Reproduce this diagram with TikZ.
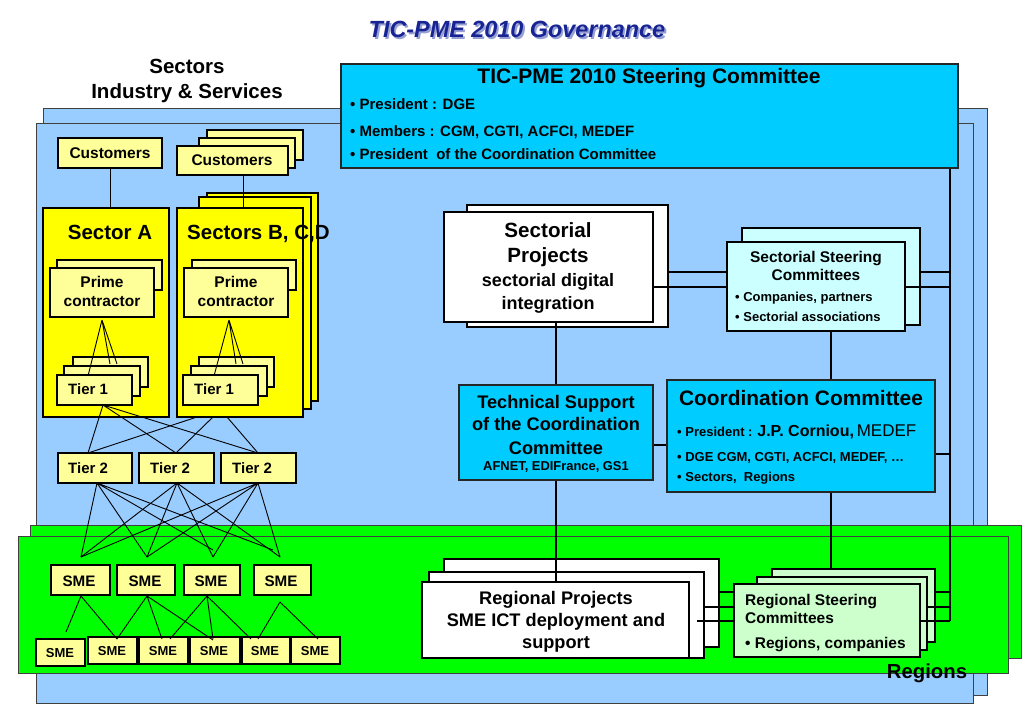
\documentclass[tikz,border=0pt]{standalone}
\usepackage{fontspec}
\setmainfont{Liberation Sans}
\usetikzlibrary{fit}
\definecolor{bgblue}{HTML}{99CCFF}
\definecolor{bggreen}{HTML}{00FF00}
\definecolor{cyanbox}{HTML}{00CCFF}
\definecolor{lcyan}{HTML}{CCFFFF}
\definecolor{ysec}{HTML}{FFFF00}
\definecolor{lyel}{HTML}{FFFF99}
\definecolor{lgreen}{HTML}{CCFFCC}
\definecolor{titleblue}{RGB}{24,36,148}
\definecolor{titleshadow}{RGB}{150,160,210}
\newcommand\fz[1]{\fontsize{#1}{#1}\selectfont\bfseries}
\newcommand\bx[3]{\node[#1, fit={#3}, inner sep=0pt] (#2) {};}
\begin{document}
\begin{tikzpicture}[x=1pt,y=-1pt,
  lay/.style={draw=black!75, line width=0.9pt},
  bluelay/.style={lay, fill=bgblue},
  greenlay/.style={lay, fill=bggreen},
  cbox/.style={draw=black!85, line width=1.2pt, fill=cyanbox},
  lcbox/.style={draw=black, line width=1.1pt, fill=lcyan},
  secbox/.style={draw=black, line width=1.1pt, fill=ysec},
  ybox/.style={draw=black, line width=1.1pt, fill=lyel},
  wbox/.style={draw=black, line width=1.8pt, fill=white},
  lgbox/.style={draw=black, line width=1.1pt, fill=lgreen},
  thinln/.style={draw=black, line width=0.9pt},
  conn/.style={draw=black, line width=2pt},
  txt/.style={inner sep=0pt, anchor=base},
  txtw/.style={inner sep=0pt, anchor=base west},
]
\useasboundingbox (0,0) rectangle (1023,708);

% ---- title
\node[txt, text=titleshadow, font={\fontsize{23.4}{28}\selectfont\bfseries\itshape}] (titleS) at (518.8,39.8) {TIC-PME 2010 Governance};
\node[txt, text=titleblue, font={\fontsize{23.4}{28}\selectfont\bfseries\itshape}] (title) at (517,38) {TIC-PME 2010 Governance};

% ---- background layers
\bx{bluelay}{blueback}{(43,108) (987,695)}
\bx{bluelay}{bluefront}{(36,123) (973,703)}
\bx{greenlay}{greenback}{(30,525) (1021,658)}
\bx{greenlay}{greenfront}{(18,536) (1008,673)}

% ---- headers
\node[txt, font={\fz{20.5}}] (hdr1) at (187,74) {Sectors};
\node[txt, font={\fz{20.5}}] (hdr2) at (187,99) {Industry \& Services};
\node[txt, font={\fz{20.3}}] (regions) at (927,678) {Regions};

% ---- steering committee
\bx{cbox}{steer}{(341,64) (958,168)}
\node[txt, font={\fz{21}}] (steerT) at (649,84) {TIC-PME 2010 Steering Committee};
\node[txtw, font={\fz{15}}] (steer1) at (350,110) {• President : DGE};
\node[txtw, font={\fz{15}}] (steer2) at (350,137) {• Members : CGM, CGTI, ACFCI, MEDEF};
\node[txtw, font={\fz{15}}] (steer3) at (350,160) {• President\ \ of the Coordination Committee};

% ---- customers
\bx{ybox}{custA}{(58,138) (162,168)}
\node[txt, font={\fz{15.5}}] (custAt) at (110,159) {Customers};
\bx{ybox}{custB3}{(207,130) (303,160)}
\bx{ybox}{custB2}{(199,138) (295,168)}
\bx{ybox}{custB}{(177,146) (288,175)}
\node[txt, font={\fz{15.5}}] (custBt) at (232,166) {Customers};

% ---- sectors
\bx{secbox}{secA}{(43,208) (169,417)}
\bx{secbox}{secB3}{(207,193) (318,401)}
\bx{secbox}{secB2}{(199,197) (311,409)}
\bx{secbox}{secB}{(177,208) (303,417)}
\coordinate (cBx) at (243,0);
\draw[thinln] (custA.south) -- (custA.south |- secA.north);
\draw[thinln] (custB.south -| cBx) -- (secB.north -| cBx);
\node[txt, font={\fz{20.5}}] (secAt) at (110,240) {Sector A};
\node[txtw, font={\fz{20.5}}] (secBt) at (187,240) {Sectors B, C,D};

% ---- prime contractors
\bx{ybox}{primeA2}{(57,260) (162,290)}
\bx{ybox}{primeA}{(50,268) (154,317)}
\node[txt, font={\fz{15.5}}] at (102,288) {Prime};
\node[txt, font={\fz{15.5}}] at (102,307) {contractor};
\bx{ybox}{primeB2}{(192,260) (296,290)}
\bx{ybox}{primeB}{(184,268) (288,317)}
\node[txt, font={\fz{15.5}}] at (236,288) {Prime};
\node[txt, font={\fz{15.5}}] at (236,307) {contractor};

% ---- tier 1
\bx{ybox}{t1A3}{(73,357) (148,387)}
\bx{ybox}{t1A2}{(64,366) (140,396)}
\bx{ybox}{t1A}{(57,375) (132,405)}
\node[txtw, font={\fz{15}}] at (68,395) {Tier 1};
\bx{ybox}{t1B3}{(199,357) (274,387)}
\bx{ybox}{t1B2}{(191,366) (267,396)}
\bx{ybox}{t1B}{(183,375) (258,405)}
\node[txtw, font={\fz{15}}] at (194,395) {Tier 1};

\coordinate (pA) at (102,320);
\coordinate (pB) at (229,320);
\draw[thinln] (pA) -- (88,376) (pA) -- (110,364) (pA) -- (117,364);
\draw[thinln] (pB) -- (214,376) (pB) -- (236,364) (pB) -- (243,364);

% ---- tier 2
\bx{ybox}{t2a}{(58,453) (132,483)}
\bx{ybox}{t2b}{(139,453) (214,483)}
\bx{ybox}{t2c}{(221,453) (296,483)}
\node[txtw, font={\fz{15}}] at (68,474) {Tier 2};
\node[txtw, font={\fz{15}}] at (150,474) {Tier 2};
\node[txtw, font={\fz{15}}] at (232,474) {Tier 2};

\coordinate (t1Aap) at (103,405);
\coordinate (sB1) at (197,417);
\coordinate (sB2) at (213,417);
\coordinate (sB3) at (227,417);
\coordinate (t2aT) at (88,453);
\coordinate (t2bT) at (176,453);
\coordinate (t2cT) at (258,453);
\draw[thinln] (t1Aap) -- (t2aT) (t1Aap) -- (t2bT) (t1Aap) -- (t2cT);
\draw[thinln] (sB1) -- (t2aT) (sB2) -- (t2bT) (sB3) -- (t2cT);

% ---- SMEs
\bx{ybox}{s1}{(51,565) (110,595)}
\bx{ybox}{s2}{(117,565) (175,595)}
\bx{ybox}{s3}{(184,565) (240,595)}
\bx{ybox}{s4}{(254,565) (311,595)}
\node[txt, font={\fz{15.2}}] at (79,586) {SME};
\node[txt, font={\fz{15.2}}] at (145,586) {SME};
\node[txt, font={\fz{15.2}}] at (211,586) {SME};
\node[txt, font={\fz{15.2}}] at (281,586) {SME};
\bx{ybox}{r1}{(36,639) (85,666)}
\bx{ybox}{r2}{(88,637) (137,664)}
\bx{ybox}{r3}{(139,637) (188,664)}
\bx{ybox}{r4}{(190,637) (240,664)}
\bx{ybox}{r5}{(242,637) (290,664)}
\bx{ybox}{r6}{(291,637) (340,664)}
\node[txt, font={\fz{13}}] at (60,657) {SME};
\node[txt, font={\fz{13}}] at (112,655) {SME};
\node[txt, font={\fz{13}}] at (163,655) {SME};
\node[txt, font={\fz{13}}] at (214,655) {SME};
\node[txt, font={\fz{13}}] at (265,655) {SME};
\node[txt, font={\fz{13}}] at (315,655) {SME};

\coordinate (t2aB) at (97,483);
\coordinate (t2bB) at (177,483);
\coordinate (t2cB) at (258,483);
\coordinate (e1) at (81,557);
\coordinate (e2) at (147,557);
\coordinate (e3) at (213,557);
\coordinate (e4) at (280,557);
\coordinate (e3b) at (213,550);
\coordinate (e4b) at (273,550);
\draw[thinln] (t2aB) -- (e1) (t2aB) -- (e2) (t2aB) -- (e3b) (t2aB) -- (e4b);
\draw[thinln] (t2bB) -- (e1) (t2bB) -- (e2) (t2bB) -- (e3) (t2bB) -- (e4);
\draw[thinln] (t2cB) -- (e1) (t2cB) -- (e2) (t2cB) -- (e3) (t2cB) -- (e4);

\coordinate (s1B) at (81,596);
\coordinate (s2B) at (147,596);
\coordinate (s3B) at (207,596);
\coordinate (s4B) at (280,602);
\draw[thinln] (s1B) -- (66,632) (s1B) -- (117,639);
\draw[thinln] (s2B) -- (117,639) (s2B) -- (162,639) (s2B) -- (213,640);
\draw[thinln] (s3B) -- (170,639) (s3B) -- (213,639) (s3B) -- (251,639);
\draw[thinln] (s4B) -- (258,639) (s4B) -- (318,639);

% ---- sectorial projects
\bx{wbox}{secproj2}{(467,205) (668,327)}
\bx{wbox}{secproj}{(444,212) (653,322)}
\node[txt, font={\fz{20.6}}] at (548,238) {Sectorial};
\node[txt, font={\fz{20.6}}] at (548,263) {Projects};
\node[txt, font={\fz{18}}] at (548,287) {sectorial digital};
\node[txt, font={\fz{18}}] at (548,310) {integration};

% ---- sectorial steering committees
\bx{lcbox}{sst2}{(742,228) (920,325)}
\bx{lcbox}{sst}{(727,242) (905,331)}
\node[txt, font={\fz{15.5}}] at (816,263) {Sectorial Steering};
\node[txt, font={\fz{15.5}}] at (816,281) {Committees};
\node[txtw, font={\fz{13}}] at (735,302) {• Companies, partners};
\node[txtw, font={\fz{13}}] at (735,322) {• Sectorial associations};

% ---- technical support
\bx{cbox}{tech}{(459,385) (653,480)}
\node[txt, font={\fz{18.2}}] at (556,409) {Technical Support};
\node[txt, font={\fz{18.2}}] at (556,431) {of the Coordination};
\node[txt, font={\fz{18.2}}] at (556,454) {Committee};
\node[txt, font={\fz{12.9}}] at (556,470) {AFNET, EDIFrance, GS1};

% ---- coordination committee
\bx{cbox}{coord}{(667,380) (935,492)}
\node[txt, font={\fz{20.9}}] at (801,406) {Coordination Committee};
\node[txtw] at (677,436) {{\fz{13}• President : }{\fz{16}J.P. Corniou,} {\fontsize{17}{17}\selectfont\mdseries MEDEF}};
\node[txtw, font={\fz{13}}] at (677,461) {• DGE CGM, CGTI, ACFCI, MEDEF, …};
\node[txtw, font={\fz{13}}] at (677,482) {• Sectors,\ \ Regions};

% ---- regional projects
\bx{wbox}{rp3}{(444,559) (719,647)}
\bx{wbox}{rp2}{(429,572) (704,658)}
\bx{wbox}{rp}{(422,582) (689,658)}
\node[txt, font={\fz{18.2}}] at (556,604) {Regional Projects};
\node[txt, font={\fz{18.2}}] at (556,626) {SME ICT deployment and};
\node[txt, font={\fz{18.2}}] at (556,648) {support};

% ---- regional steering committees
\bx{lgbox}{rs3}{(772,569) (935,642)}
\bx{lgbox}{rs2}{(757,577) (927,650)}
\bx{lgbox}{rs}{(734,584) (920,657)}
\node[txtw, font={\fz{15.5}}] at (745,605) {Regional Steering};
\node[txtw, font={\fz{15.5}}] at (745,623) {Committees};
\node[txtw, font={\fz{15.5}}] at (745,648) {• Regions, companies};

% ---- committee connectors
\coordinate (v831) at (831,0);
\coordinate (v950) at (950,0);
\coordinate (x697) at (697,0);
\coordinate (h272) at (0,272);
\coordinate (h287) at (0,287);
\coordinate (h445) at (0,445);
\coordinate (h454) at (0,454);
\coordinate (h592) at (0,592);
\coordinate (h607) at (0,607);
\coordinate (h621) at (0,621);
\coordinate (rsEnd) at (950,621);

\draw[conn] (secproj.south -| tech.north) -- (tech.north);
\draw[conn] (tech.south) -- (tech.south |- rp.north);
\draw[conn] (sst.south -| v831) -- (coord.north -| v831);
\draw[conn] (coord.south -| v831) -- (rs3.north -| v831);
\draw[conn] (steer.south -| v950) -- (rsEnd);
\draw[conn] (h272 -| secproj2.east) -- (h272 -| sst.west);
\draw[conn] (h287 -| secproj.east) -- (h287 -| sst.west);
\draw[conn] (h272 -| sst2.east) -- (h272 -| v950);
\draw[conn] (h287 -| sst.east) -- (h287 -| v950);
\draw[conn] (h445 -| tech.east) -- (h445 -| coord.west);
\draw[conn] (h454 -| coord.east) -- (h454 -| v950);
\draw[conn] (h592 -| rp3.east) -- (h592 -| rs.west);
\draw[conn] (h607 -| rp2.east) -- (h607 -| rs.west);
\draw[conn] (h621 -| x697) -- (h621 -| rs.west);
\draw[conn] (h592 -| rs3.east) -- (h592 -| v950);
\draw[conn] (h607 -| rs2.east) -- (h607 -| v950);
\draw[conn] (h621 -| rs.east) -- (rsEnd);
\end{tikzpicture}
\end{document}
